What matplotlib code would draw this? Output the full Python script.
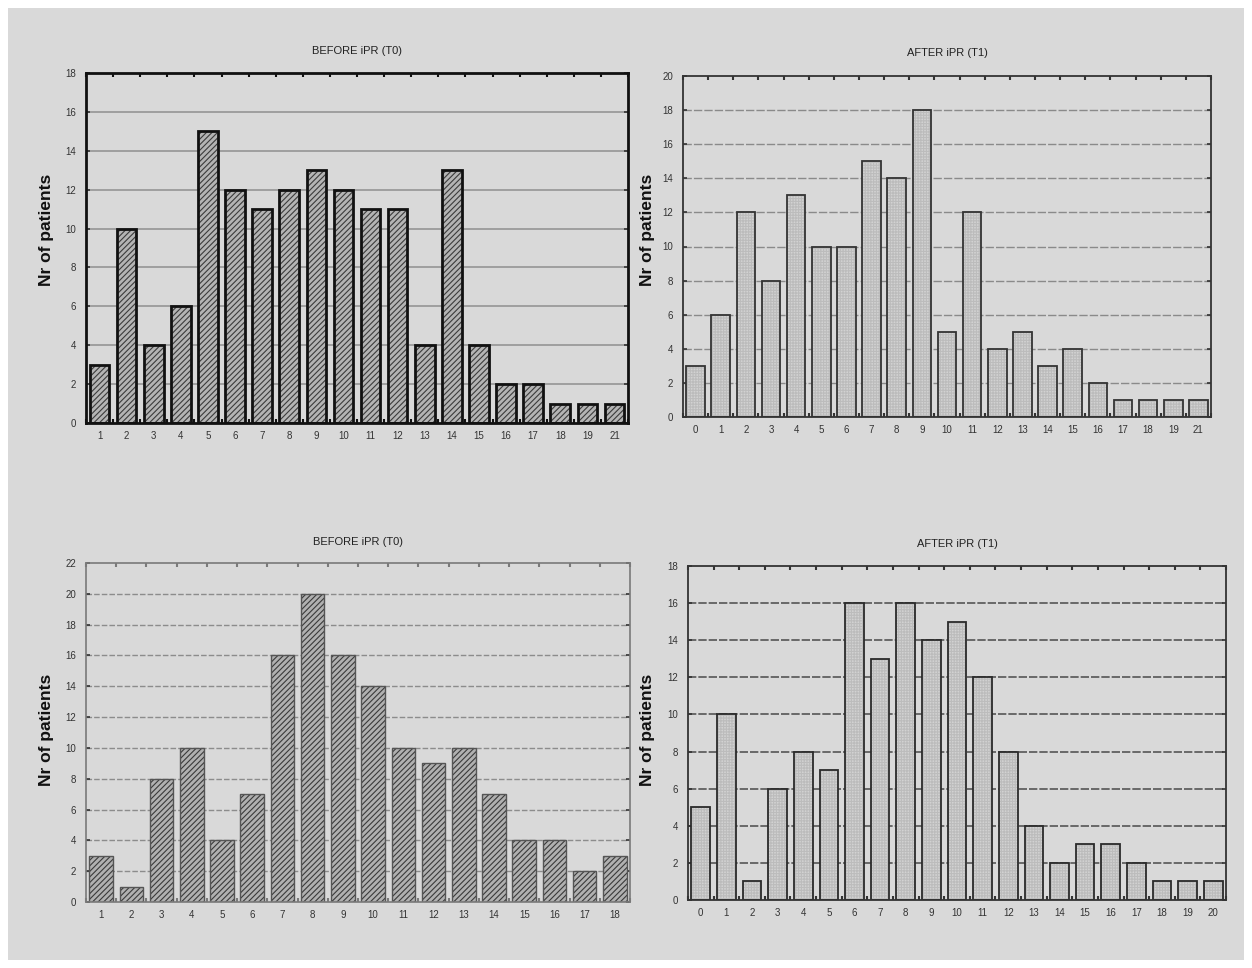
import matplotlib
matplotlib.use("Agg")
import matplotlib.pyplot as plt
from matplotlib.patches import Rectangle
import numpy as np

plt.rcParams['font.family'] = ['Liberation Sans', 'DejaVu Sans']

# ---------------- data ----------------
tl_title = "BEFORE iPR (T0)"
tl_cats = ["1", "2", "3", "4", "5", "6", "7", "8", "9", "10", "11", "12", "13", "14", "15", "16", "17", "18", "19", "21"]
tl_vals = [3, 10, 4, 6, 15, 12, 11, 12, 13, 12, 11, 11, 4, 13, 4, 2, 2, 1, 1, 1]
tl_yticks = list(range(0, 19, 2))

tr_title = "AFTER iPR (T1)"
tr_cats = ["0", "1", "2", "3", "4", "5", "6", "7", "8", "9", "10", "11", "12", "13", "14", "15", "16", "17", "18", "19", "21"]
tr_vals = [3, 6, 12, 8, 13, 10, 10, 15, 14, 18, 5, 12, 4, 5, 3, 4, 2, 1, 1, 1, 1]
tr_yticks = list(range(0, 21, 2))

bl_title = "BEFORE iPR (T0)"
bl_cats = ["1", "2", "3", "4", "5", "6", "7", "8", "9", "10", "11", "12", "13", "14", "15", "16", "17", "18"]
bl_vals = [3, 1, 8, 10, 4, 7, 16, 20, 16, 14, 10, 9, 10, 7, 4, 4, 2, 3]
bl_yticks = list(range(0, 23, 2))

br_title = "AFTER iPR (T1)"
br_cats = ["0", "1", "2", "3", "4", "5", "6", "7", "8", "9", "10", "11", "12", "13", "14", "15", "16", "17", "18", "19", "20"]
br_vals = [5, 10, 1, 6, 8, 7, 16, 13, 16, 14, 15, 12, 8, 4, 2, 3, 3, 2, 1, 1, 1]
br_yticks = list(range(0, 19, 2))

ylabel = "Nr of patients"

W, H = 1252, 968
fig = plt.figure(figsize=(W / 100, H / 100), dpi=100, facecolor='white')
BG = '#d9d9d9'
fig.patches.append(Rectangle((8 / W, 8 / H), (W - 16) / W, (H - 16) / H,
                             transform=fig.transFigure, facecolor=BG,
                             edgecolor='none', zorder=-10))

def px_axes(l, t, r, b):
    return fig.add_axes([l / W, 1 - b / H, (r - l) / W, (b - t) / H])

def panel(box, cats, vals, yticks, title, title_y, ylab_xy, style):
    ax = px_axes(*box)
    ax.set_facecolor(BG)
    x = np.arange(len(cats))
    ax.set_xlim(-0.5, len(cats) - 0.5)
    ax.set_ylim(0, yticks[-1])
    ax.set_yticks(yticks)
    ax.set_xticks(x)
    ax.set_xticklabels(cats)
    ax.set_xticks(np.arange(len(cats) + 1) - 0.5, minor=True)
    for yv in yticks[1:-1]:
        ax.axhline(yv, color=style['gcolor'], lw=style['glw'],
                   ls=style['gls'], zorder=1)
    # filled/hatched layer
    ax.bar(x, vals, width=style['bw'], color=style['face'],
           hatch=style['hatch'], edgecolor=style['hcolor'], linewidth=0,
           zorder=2)
    # outline layer
    ax.bar(x, vals, width=style['bw'], fill=False,
           edgecolor=style['ecolor'], linewidth=style['elw'], zorder=3)
    for s in ax.spines.values():
        s.set_color(style['scolor'])
        s.set_linewidth(style['slw'])
        s.set_zorder(4)
    ax.tick_params(axis='both', which='major', labelsize=7,
                   colors='#333333', direction='in')
    ax.tick_params(axis='x', which='major', length=0, pad=6)
    ax.tick_params(axis='y', which='major', length=3, width=1.2,
                   left=True, right=True, pad=7)
    ax.tick_params(axis='x', which='minor', length=3, width=1.5,
                   direction='in', top=True, bottom=True,
                   color=style['scolor'])
    cx = (box[0] + box[2]) / 2
    fig.text(cx / W, 1 - title_y / H, title, ha='center', va='center',
             fontsize=8, color='#222222')
    fig.text(ylab_xy[0] / W, 1 - ylab_xy[1] / H, ylabel, rotation=90,
             ha='center', va='center', fontsize=12.5, fontweight='bold',
             color='#111111')
    return ax

plt.rcParams['hatch.linewidth'] = 0.8

tl_style = dict(bw=0.72, face='#b4b4b4', hatch='//////', hcolor='#3c3c3c',
                ecolor='#111111', elw=2.0, gcolor='#9a9a9a', glw=1.3, gls='-',
                scolor='#111111', slw=2.0)
tr_style = dict(bw=0.74, face='#d2d2d2', hatch='++++++', hcolor='#bcbcbc',
                ecolor='#333333', elw=1.3, gcolor='#8a8a8a', glw=1.0,
                gls=(0, (6, 1.5)), scolor='#333333', slw=1.3)
bl_style = dict(bw=0.78, face='#b0b0b0', hatch='//////', hcolor='#3a3a3a',
                ecolor='#555555', elw=1.0, gcolor='#8c8c8c', glw=1.0,
                gls=(0, (4, 1.5)), scolor='#7a7a7a', slw=1.2)
br_style = dict(bw=0.73, face='#d2d2d2', hatch='++++++', hcolor='#bcbcbc',
                ecolor='#2a2a2a', elw=1.3, gcolor='#555555', glw=1.2,
                gls=(0, (5, 1.2)), scolor='#333333', slw=1.3)

panel((86, 73, 628, 423), tl_cats, tl_vals, tl_yticks, tl_title, 51, (46, 230), tl_style)
panel((683, 76, 1211, 417), tr_cats, tr_vals, tr_yticks, tr_title, 53, (648, 230), tr_style)
panel((86, 563, 630, 902), bl_cats, bl_vals, bl_yticks, bl_title, 542, (46, 730), bl_style)
panel((688, 566, 1226, 900), br_cats, br_vals, br_yticks, br_title, 544, (648, 730), br_style)

fig.savefig("out.png", dpi=100, facecolor=fig.get_facecolor())
